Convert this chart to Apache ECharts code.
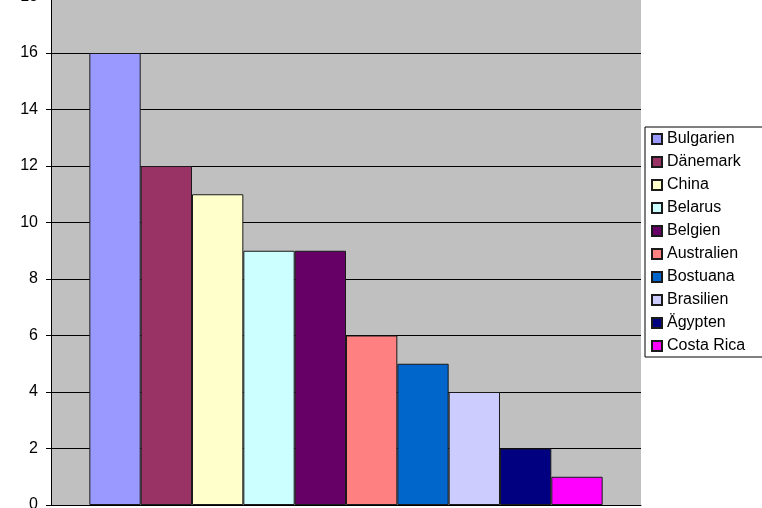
<!DOCTYPE html>
<html>
<head>
<meta charset="utf-8">
<script src="https://cdn.jsdelivr.net/npm/echarts@6/dist/echarts.min.js"></script>
<style>
  html, body { margin: 0; padding: 0; background: #fff; }
  #chart { width: 762px; height: 508px; }
</style>
</head>
<body>
<div id="chart"></div>
<script>
// data
var countries = ['Bulgarien', 'Dänemark', 'China', 'Belarus', 'Belgien', 'Australien', 'Bostuana', 'Brasilien', 'Ägypten', 'Costa Rica'];
var values = [16, 12, 11, 9, 9, 6, 5, 4, 2, 1];
var yTicks = [0, 2, 4, 6, 8, 10, 12, 14, 16, 18];

// old excel palette
var colors = ['#9999FF', '#993366', '#FFFFCC', '#CCFFFF', '#660066', '#FF8080', '#0066CC', '#CCCCFF', '#000080', '#FF00FF'];

var font = 'Liberation Sans, Arial, sans-serif';

var series = countries.map(function(name, i) {
    return {
        name: name,
        type: 'bar',
        data: [values[i]],
        barGap: '0%',
        barCategoryGap: '13%',
        itemStyle: {
            color: colors[i],
            borderColor: '#1a1a1a',
            borderWidth: 1
        }
    };
});

var myChart = echarts.init(document.getElementById('chart'));
myChart.setOption({
    animation: false,
    backgroundColor: '#fff',
    textStyle: { fontFamily: font },
    grid: {
        left: 51,
        right: 121,
        top: -3.5,
        bottom: 3,
        outerBoundsMode: 'none',
        show: true,
        backgroundColor: '#C0C0C0',
        borderWidth: 0
    },
    legend: {
        orient: 'vertical',
        left: 645,
        top: 127,
        padding: [4, 18, 3, 6],
        itemWidth: 10,
        itemHeight: 10,
        itemGap: 7,
        icon: 'rect',
        backgroundColor: '#fff',
        borderColor: '#000',
        borderWidth: 1,
        borderRadius: 0,
        textStyle: { fontSize: 16, lineHeight: 16, color: '#000', fontFamily: font },
        data: countries
    },
    xAxis: {
        type: 'category',
        data: [''],
        axisLine: { show: true, lineStyle: { color: '#000', width: 1 } },
        axisTick: { show: false },
        axisLabel: { show: false }
    },
    yAxis: {
        type: 'value',
        min: yTicks[0],
        max: yTicks[yTicks.length - 1],
        interval: 2,
        axisLine: { show: true, lineStyle: { color: '#000', width: 1 } },
        axisTick: { show: true, length: 5, lineStyle: { color: '#000' } },
        axisLabel: { fontSize: 16, color: '#000', margin: 13, fontFamily: font },
        splitLine: { show: true, lineStyle: { color: '#000', width: 1 } }
    },
    series: series
});
</script>
</body>
</html>
